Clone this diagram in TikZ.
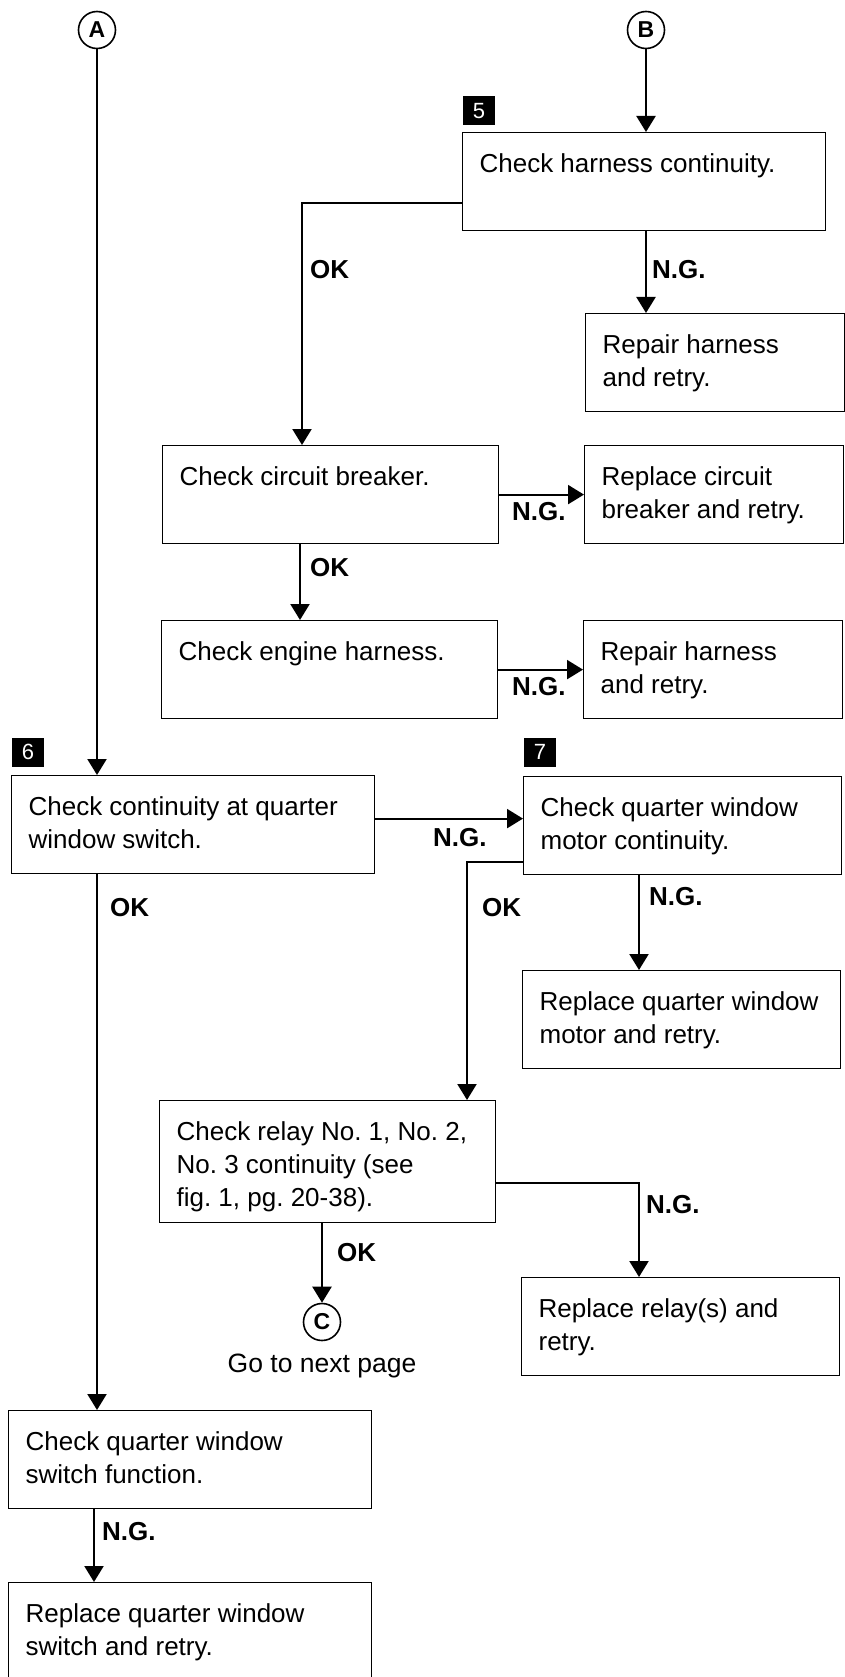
\documentclass[tikz,border=0pt]{standalone}
\usepackage{fontspec}
\setmainfont{Liberation Sans}
\usetikzlibrary{arrows.meta}
\frenchspacing

\begin{document}
\begin{tikzpicture}[x=1pt, y=-1pt,
  stepbox/.style={draw=black, line width=1.2pt, anchor=north west, align=flush left,
    inner xsep=17pt, inner ysep=0pt, text height=40pt, text depth=58pt,
    font=\fontsize{26}{33}\selectfont},
  widebox/.style={stepbox, text width=329pt},
  midbox/.style={stepbox, text width=302pt},
  rightbox/.style={stepbox, text width=284pt},
  fixbox/.style={stepbox, text width=225pt},
  stepno/.style={fill=black, text=white, minimum width=32pt, minimum height=29pt,
    inner sep=0pt, font=\fontsize{22}{22}\selectfont},
  pointer/.style={circle, draw=black, line width=1.6pt, minimum size=37pt,
    inner sep=0pt, font=\bfseries\fontsize{23}{23}\selectfont},
  result/.style={anchor=west, inner sep=0pt, font=\bfseries\fontsize{26}{26}\selectfont},
  flowarrow/.style={-{Triangle[length=16pt, width=19pt]}, line width=2.2pt}
]
\useasboundingbox (0,0) rectangle (844,1677);

\node[pointer] (ptA) at (97,30) {A};
\node[pointer] (ptB) at (646,30) {B};
\node[pointer] (ptC) at (322,1322) {C};
\node[anchor=base, inner sep=0pt, font=\fontsize{26.5}{33}\selectfont] (nextpage) at (322,1372) {Go to next page};

\node[stepno] (no5) at (479,111) {5};
\node[stepno] (no6) at (28,752) {6};
\node[stepno] (no7) at (540,752) {7};

\node[widebox] (harness) at (462,132) {Check harness continuity.};
\node[fixbox] (repair1) at (585,313) {Repair harness\\and retry.};
\node[midbox] (breaker) at (162,445) {Check circuit breaker.};
\node[fixbox] (replacecb) at (584,445) {Replace circuit\\breaker and retry.};
\node[midbox] (engine) at (161,620) {Check engine harness.};
\node[fixbox] (repair2) at (583,620) {Repair harness\\and retry.};
\node[widebox] (quartersw) at (11,775) {Check continuity at quarter\\window switch.};
\node[rightbox] (motorchk) at (523,776) {Check quarter window\\motor continuity.};
\node[rightbox] (motorrep) at (522,970) {Replace quarter window\\motor and retry.};
\node[midbox, text depth=82pt] (relay) at (159,1100) {Check relay No. 1, No. 2,\\No. 3 continuity (see\\fig. 1, pg. 20-38).};
\node[rightbox] (relayrep) at (521,1277) {Replace relay(s) and\\retry.};
\node[widebox] (swfunc) at (8,1410) {Check quarter window\\switch function.};
\node[widebox] (swrep) at (8,1582) {Replace quarter window\\switch and retry.};

% OK / N.G. marks
\node[result] (ok1) at (310,270) {OK};
\node[result] (ng1) at (652,270) {N.G.};
\node[result] (ng2) at (512,512) {N.G.};
\node[result] (ok2) at (310,568) {OK};
\node[result] (ng3) at (512,687) {N.G.};
\node[result] (ng4) at (433,838) {N.G.};
\node[result] (ok3) at (110,908) {OK};
\node[result] (ok4) at (482,908) {OK};
\node[result] (ng5) at (649,897) {N.G.};
\node[result] (ng6) at (646,1205) {N.G.};
\node[result] (ok5) at (337,1253) {OK};
\node[result] (ng7) at (102,1532) {N.G.};

% connectors
\draw[flowarrow] (ptA) -- (ptA |- quartersw.north);
\draw[flowarrow] (ptB) -- (ptB |- harness.north);
\draw[flowarrow] ([yshift=28pt]harness.south west) -| ([xshift=140pt]breaker.north west);
\draw[flowarrow] (ptB |- harness.south) -- (ptB |- repair1.north);
\draw[flowarrow] (breaker.east) -- (breaker.east -| replacecb.west);
\draw[flowarrow] ([xshift=138pt]breaker.south west) -- ([xshift=138pt]breaker.south west |- engine.north);
\draw[flowarrow] (engine.east) -- (engine.east -| repair2.west);
\draw[flowarrow] ([yshift=6pt]quartersw.east) -- ([yshift=6pt]quartersw.east -| motorchk.west);
\draw[flowarrow] ([yshift=13pt]motorchk.south west) -| ([xshift=308pt]relay.north west);
\draw[flowarrow] ([xshift=116pt]motorchk.south west) -- ([xshift=116pt]motorchk.south west |- motorrep.north);
\draw[flowarrow] ([yshift=40pt]relay.south east) -| ([xshift=118pt]relayrep.north west);
\draw[flowarrow] (ptC |- relay.south) -- (ptC);
\draw[flowarrow] (ptA |- quartersw.south) -- (ptA |- swfunc.north);
\draw[flowarrow] ([xshift=86pt]swfunc.south west) -- ([xshift=86pt]swfunc.south west |- swrep.north);
\end{tikzpicture}
\end{document}
